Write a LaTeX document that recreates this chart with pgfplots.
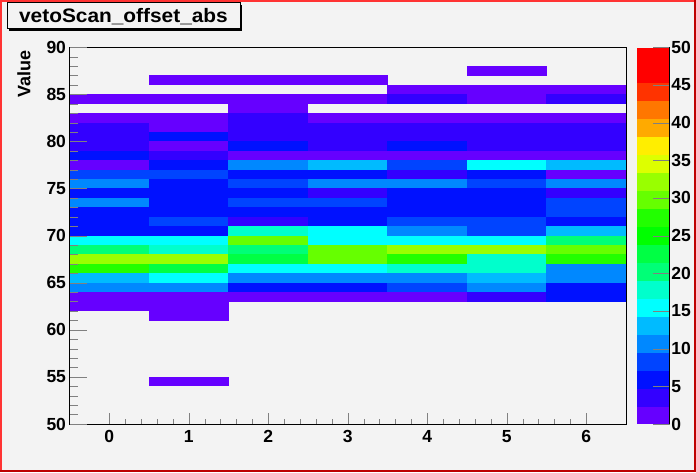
\documentclass[border=0pt]{standalone}
\usepackage{fontspec}
\setmainfont{Liberation Sans}
\usepackage{pgfplots}
\pgfplotsset{compat=1.18}
\definecolor{bg}{RGB}{243,243,243}
\definecolor{lred}{RGB}{255,51,51}
\definecolor{dred}{RGB}{190,0,0}
\pgfdeclareplotmark{cell}{\pgfpathrectangle{\pgfpoint{-39.95pt}{-4.82pt}}{\pgfpoint{79.9pt}{9.64pt}}\pgfusepathqfill}
\pgfplotsset{
  colormap={rootpal}{rgb255=(102,0,255) rgb255=(51,0,255) rgb255=(0,17,255) rgb255=(0,68,255)
    rgb255=(0,136,255) rgb255=(0,187,255) rgb255=(0,255,255) rgb255=(0,255,204)
    rgb255=(0,255,119) rgb255=(0,255,68) rgb255=(0,255,0) rgb255=(34,255,0)
    rgb255=(102,255,0) rgb255=(153,255,0) rgb255=(221,255,0) rgb255=(255,238,0)
    rgb255=(255,170,0) rgb255=(255,119,0) rgb255=(255,51,0) rgb255=(255,0,0) rgb255=(255,0,0)},
  rootframe/.style={
    at={(69.5pt,48pt)}, anchor=south west,
    scale only axis, width=556.5pt, height=376.7pt,
    xmin=-0.5, xmax=6.5, ymin=50, ymax=90,
    tick align=inside,
    /pgf/number format/assume math mode=true,
    ticklabel style={font=\fontsize{17.5}{17.5}\selectfont\bfseries},
    axis line style={line width=1pt},
  },
}
\pgfplotstableread{
x y z
5 87.5 1.2
1 86.5 1.2
2 86.5 1.2
3 86.5 1.2
4 85.5 1.2
5 85.5 1.2
6 85.5 1.2
0 84.5 1.2
1 84.5 1.2
2 84.5 1.2
3 84.5 1.2
4 84.5 3.7
5 84.5 1.2
6 84.5 3.7
2 83.5 1.2
0 82.5 1.2
1 82.5 1.2
2 82.5 3.7
3 82.5 1.2
4 82.5 1.2
5 82.5 1.2
6 82.5 1.2
0 81.5 3.7
1 81.5 1.2
2 81.5 3.7
3 81.5 3.7
4 81.5 3.7
5 81.5 3.7
6 81.5 3.7
0 80.5 3.7
1 80.5 6.2
2 80.5 3.7
3 80.5 3.7
4 80.5 3.7
5 80.5 3.7
6 80.5 3.7
0 79.5 3.7
1 79.5 1.2
2 79.5 6.2
3 79.5 3.7
4 79.5 6.2
5 79.5 3.7
6 79.5 3.7
0 78.5 6.2
1 78.5 3.7
2 78.5 1.2
3 78.5 1.2
4 78.5 1.2
5 78.5 1.2
6 78.5 1.2
0 77.5 1.2
1 77.5 6.2
2 77.5 11.2
3 77.5 13.7
4 77.5 8.7
5 77.5 16.2
6 77.5 13.7
0 76.5 8.7
1 76.5 8.7
2 76.5 6.2
3 76.5 6.2
4 76.5 3.7
5 76.5 6.2
6 76.5 1.2
0 75.5 11.2
1 75.5 6.2
2 75.5 8.7
3 75.5 11.2
4 75.5 11.2
5 75.5 8.7
6 75.5 11.2
0 74.5 6.2
1 74.5 6.2
2 74.5 6.2
3 74.5 3.7
4 74.5 6.2
5 74.5 6.2
6 74.5 3.7
0 73.5 11.2
1 73.5 6.2
2 73.5 8.7
3 73.5 8.7
4 73.5 6.2
5 73.5 6.2
6 73.5 8.7
0 72.5 6.2
1 72.5 6.2
2 72.5 6.2
3 72.5 6.2
4 72.5 6.2
5 72.5 6.2
6 72.5 8.7
0 71.5 6.2
1 71.5 8.7
2 71.5 3.7
3 71.5 6.2
4 71.5 8.7
5 71.5 8.7
6 71.5 6.2
0 70.5 6.2
1 70.5 6.2
2 70.5 18.7
3 70.5 16.2
4 70.5 11.2
5 70.5 8.7
6 70.5 13.7
0 69.5 16.2
1 69.5 16.2
2 69.5 28.7
3 69.5 16.2
4 69.5 16.2
5 69.5 16.2
6 69.5 21.2
0 68.5 21.2
1 68.5 18.7
2 68.5 21.2
3 68.5 28.7
4 68.5 31.2
5 68.5 31.2
6 68.5 28.7
0 67.5 31.2
1 67.5 31.2
2 67.5 23.7
3 67.5 28.7
4 67.5 26.2
5 67.5 18.7
6 67.5 26.2
0 66.5 26.2
1 66.5 23.7
2 66.5 16.2
3 66.5 16.2
4 66.5 18.7
5 66.5 18.7
6 66.5 11.2
0 65.5 13.7
1 65.5 16.2
2 65.5 11.2
3 65.5 11.2
4 65.5 11.2
5 65.5 13.7
6 65.5 11.2
0 64.5 11.2
1 64.5 11.2
2 64.5 6.2
3 64.5 6.2
4 64.5 8.7
5 64.5 11.2
6 64.5 6.2
0 63.5 1.2
1 63.5 1.2
2 63.5 1.2
3 63.5 1.2
4 63.5 1.2
5 63.5 3.7
6 63.5 6.2
0 62.5 1.2
1 62.5 1.2
1 61.5 1.2
1 54.5 1.2
}\cells
\begin{document}
\begin{tikzpicture}[x=1pt,y=1pt]
\fill[bg] (0,0) rectangle (696,472);
\begin{axis}[
  rootframe,
  axis background/.style={fill=bg},
  axis on top,
  colormap name=rootpal,
  colormap access=piecewise constant,
  point meta min=0, point meta max=50,
  xtick={0,...,6}, ytick=\empty,
  minor x tick num=4,
  xtick pos=bottom,
  major tick length=11pt, minor tick length=5.5pt,
  xticklabel style={yshift=-3pt},
  colorbar,
  colorbar style={
    at={(parent axis.north east)}, anchor=north west, xshift=2.5pt,
    width=32.7pt,
    colormap access=piecewise constant,
    axis x line=none, axis y line*=right,
    ytick={0,5,...,50},
    ytick pos=right, yticklabel pos=right,
    tick align=inside, major tick length=17pt,
    /pgf/number format/assume math mode=true,
    yticklabel style={font=\fontsize{17.5}{17.5}\selectfont\bfseries, xshift=-2pt},
    axis line style={line width=0.8pt},
  },
]
\addplot[scatter, only marks, mark=cell, point meta=explicit,
  scatter/use mapped color={draw=mapped color, fill=mapped color}]
  table[x=x, y=y, meta=z] {\cells};
\end{axis}
\begin{axis}[
  rootframe,
  hide x axis,
  ytick={50,55,...,90},
  minor y tick num=4,
  ytick pos=left,
  major tick length=17pt, minor tick length=8.5pt,
  ylabel={Value},
  every axis y label/.style={at={(axis description cs:-0.082,1)}, rotate=90, anchor=east,
    font=\fontsize{18}{18}\selectfont\bfseries},
]
\end{axis}
% title box
\fill[black] (9,441) rectangle (242,467);
\draw[black, line width=1pt, fill=bg] (7,443) rectangle (240,469);
\node[font=\fontsize{19.5}{19.5}\selectfont\bfseries, xscale=1.07] at (123.5,455.5) {vetoScan\_offset\_abs};
% canvas border
\fill[lred] (0,0) rectangle (2,472);
\fill[lred] (0,470) rectangle (696,472);
\fill[dred] (0,0) rectangle (696,2.5);
\fill[dred] (693.5,0) rectangle (696,472);
\end{tikzpicture}
\end{document}
